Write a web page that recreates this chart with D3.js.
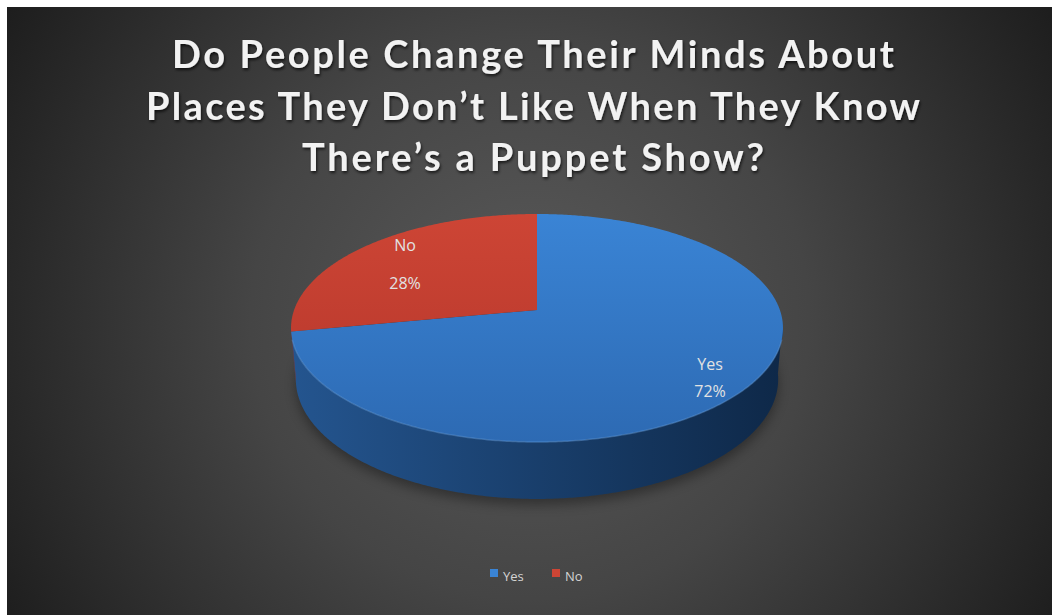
<!DOCTYPE html>
<html>
<head>
<meta charset="utf-8">
<script src="https://cdn.jsdelivr.net/npm/d3@7"></script>
<style>
  html, body { margin: 0; padding: 0; background: #ffffff; }
  svg { display: block; }
</style>
</head>
<body>
<svg id="chart" width="1056" height="615"></svg>
<script>
// Survey answers
const categories = ["Yes", "No"];
const shares = [72, 28];
const labelsText = ["72%", "28%"];
const titleLines = [
  "Do People Change Their Minds About",
  "Places They Don\u2019t Like When They Know",
  "There\u2019s a Puppet Show?"
];

const W = 1056, H = 615;
const svg = d3.select("#chart");
const defs = svg.append("defs");

// Dark radial backdrop
const bg = defs.append("radialGradient").attr("id", "bg")
  .attr("gradientUnits", "userSpaceOnUse")
  .attr("cx", 530).attr("cy", 320).attr("r", 620);
bg.append("stop").attr("offset", "0%").attr("stop-color", "#5a5a5a");
bg.append("stop").attr("offset", "45%").attr("stop-color", "#454545");
bg.append("stop").attr("offset", "100%").attr("stop-color", "#1c1c1c");
svg.append("rect").attr("x", 7).attr("y", 7).attr("width", 1045).attr("height", 608)
  .attr("fill", "url(#bg)");

// Soft glow / shadow filters
const tf = defs.append("filter").attr("id", "txt").attr("x", "-10%").attr("y", "-30%")
  .attr("width", "120%").attr("height", "160%");
tf.append("feGaussianBlur").attr("in", "SourceAlpha").attr("stdDeviation", 1.6).attr("result", "b");
tf.append("feOffset").attr("in", "b").attr("dx", 1).attr("dy", 1.5).attr("result", "o");
tf.append("feComponentTransfer").attr("in", "o").attr("result", "s")
  .append("feFuncA").attr("type", "linear").attr("slope", 0.7);
const tm = tf.append("feMerge");
tm.append("feMergeNode").attr("in", "s");
tm.append("feMergeNode").attr("in", "SourceGraphic");

const sf = defs.append("filter").attr("id", "pieShadow").attr("x", "-20%").attr("y", "-20%")
  .attr("width", "140%").attr("height", "140%");
sf.append("feGaussianBlur").attr("stdDeviation", 6);

// Perspective projection of a tilted disc (radius 1, thickness h)
const cx = 537, cy = 310;
const f = 1367.5, D = 5.63, sA = 0.4577, cA = 0.889, h = 0.239;
function projXZ(x, z, yh) {
  const v = yh * cA - z * sA;
  const w = yh * sA + z * cA;
  return [cx + f * x / (D - w), cy - f * v / (D - w)];
}
function proj(phi, yh) {
  return projXZ(Math.sin(phi), -Math.cos(phi), yh);
}
const line = d3.line();

const pie = d3.pie().sort(null).value(d => d.v)
  .startAngle(0).endAngle(2 * Math.PI);
const data = categories.map((c, i) => ({ c, v: shares[i], label: labelsText[i] }));
const arcs = pie(data);

function samples(a0, a1) {
  const n = Math.max(2, Math.ceil((a1 - a0) / 0.01));
  return d3.range(n + 1).map(i => a0 + (a1 - a0) * i / n);
}

// Ground shadow
const shadowPts = samples(0, 2 * Math.PI).map(a => proj(a, -h));
svg.append("path").attr("d", line(shadowPts) + "Z")
  .attr("transform", "translate(0,6)")
  .attr("fill", "#000").attr("opacity", 0.35).attr("filter", "url(#pieShadow)");

// Colours
const topGrad = {
  Yes: ["#3a84d5", "#2d6ab3"],
  No: ["#cd4535", "#b3352a"]
};
const sideGrad = {
  Yes: ["#24558f", "#0e2848"],
  No: ["#8a2a20", "#6a1f17"]
};
Object.keys(topGrad).forEach(k => {
  const g = defs.append("linearGradient").attr("id", "top" + k)
    .attr("gradientUnits", "userSpaceOnUse")
    .attr("x1", 0).attr("y1", 214).attr("x2", 0).attr("y2", 442);
  g.append("stop").attr("offset", "0%").attr("stop-color", topGrad[k][0]);
  g.append("stop").attr("offset", "100%").attr("stop-color", topGrad[k][1]);
  const s = defs.append("linearGradient").attr("id", "side" + k)
    .attr("gradientUnits", "userSpaceOnUse")
    .attr("x1", 291).attr("y1", 0).attr("x2", 783).attr("y2", 0);
  s.append("stop").attr("offset", "0%").attr("stop-color", sideGrad[k][0]);
  s.append("stop").attr("offset", "100%").attr("stop-color", sideGrad[k][1]);
});

// Outer walls: only the front-facing band between the two silhouettes
const kPersp = cA / D;
const silA = Math.acos(-kPersp);
const walls = svg.append("g");
arcs.forEach(a => {
  const a0 = Math.max(a.startAngle, silA - 0.05);
  const a1 = Math.min(a.endAngle, 2 * Math.PI - silA + 0.01);
  if (a1 <= a0) return;
  const s = samples(a0, a1);
  const pts = s.map(p => proj(p, 0)).concat(s.slice().reverse().map(p => proj(p, -h)));
  walls.append("path").attr("d", line(pts) + "Z")
    .attr("fill", "url(#side" + a.data.c + ")");
});

// Top faces
const tops = svg.append("g");
arcs.forEach(a => {
  const pts = [projXZ(0, 0, 0)].concat(samples(a.startAngle, a.endAngle).map(p => proj(p, 0)));
  tops.append("path").attr("d", line(pts) + "Z")
    .attr("fill", "url(#top" + a.data.c + ")");
});
// faint highlight along the front rim
const rim = samples(silA + 0.1, 2 * Math.PI - silA - 0.1).map(p => proj(p, 0));
svg.append("path").attr("d", line(rim)).attr("fill", "none")
  .attr("stroke", "#5d97d6").attr("stroke-width", 1.5).attr("opacity", 0.45);

// Data labels
const labelPos = {
  Yes: { x: 710, y1: 370, y2: 397 },
  No: { x: 405, y1: 251, y2: 289 }
};
const lbl = svg.append("g").attr("font-family", "'Open Sans', Lato, sans-serif")
  .attr("font-size", 16).attr("fill", "#e2e2e2").attr("text-anchor", "middle");
arcs.forEach(a => {
  const p = labelPos[a.data.c];
  lbl.append("text").attr("x", p.x).attr("y", p.y1).text(a.data.c);
  lbl.append("text").attr("x", p.x).attr("y", p.y2).text(a.data.label);
});

// Title
const titleG = svg.append("g").attr("font-family", "Lato, 'Open Sans', sans-serif")
  .attr("font-weight", 700).attr("font-size", 38).attr("fill", "#f2f2f2")
  .attr("text-anchor", "middle").attr("filter", "url(#txt)");
const titleY = [68, 120, 171];
const titleW = [722, 774, 462];
titleLines.forEach((t, i) => {
  titleG.append("text").attr("x", 533).attr("y", titleY[i])
    .attr("textLength", titleW[i]).attr("lengthAdjust", "spacing").text(t);
});

// Legend
const legendColors = { Yes: "#3a84d5", No: "#cd4535" };
const legendX = { Yes: 490, No: 552 };
const leg = svg.append("g").attr("font-family", "'Open Sans', Lato, sans-serif")
  .attr("font-size", 13).attr("fill", "#d4d4d4");
categories.forEach(c => {
  leg.append("rect").attr("x", legendX[c]).attr("y", 569).attr("width", 8).attr("height", 8)
    .attr("fill", legendColors[c]);
  leg.append("text").attr("x", legendX[c] + 13).attr("y", 581).text(c);
});
</script>
</body>
</html>
